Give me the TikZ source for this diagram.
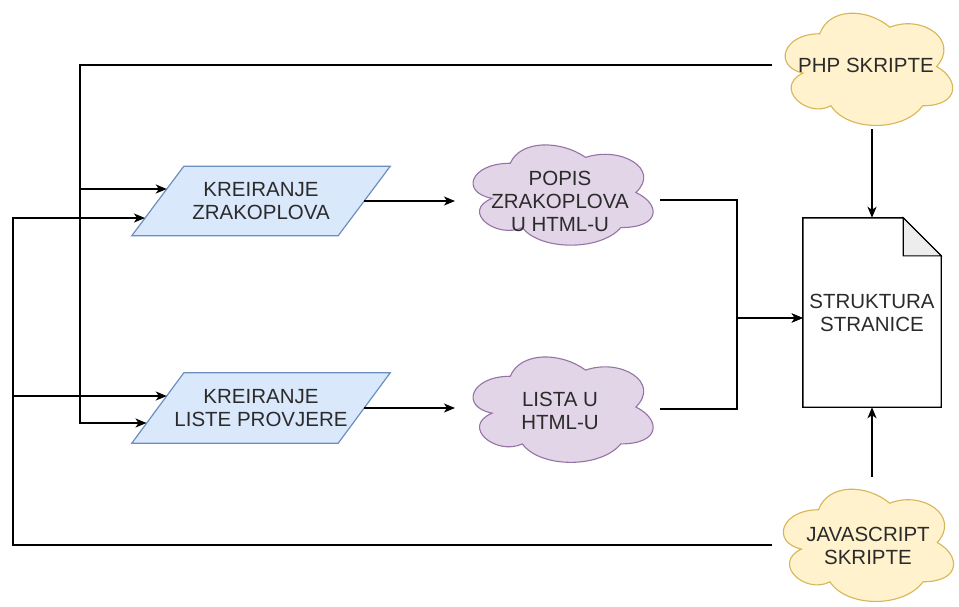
\documentclass[tikz,border=0pt]{standalone}
\usepackage{fontspec}
\setmainfont{Liberation Sans}
\usetikzlibrary{arrows.meta,backgrounds,calc}
\definecolor{pfill}{HTML}{DAE8FC}\definecolor{pline}{HTML}{6C8EBF}
\definecolor{cfill}{HTML}{E1D5E7}\definecolor{cline}{HTML}{9673A6}
\definecolor{yfill}{HTML}{FFF2CC}\definecolor{yline}{HTML}{D6B656}
\definecolor{txt}{HTML}{2B2B2B}
% draw.io style cloud inside the box (x0,y0) of size w x h (y grows downwards)
\newcommand{\dcloud}[5]{%
  \begin{scope}[shift={(#2,#3)},xscale=#4,yscale=#5]
  \path[#1] (0.25,0.25) .. controls (0.05,0.25) and (0,0.5) .. (0.16,0.55)
    .. controls (0,0.66) and (0.18,0.9) .. (0.31,0.8)
    .. controls (0.4,1) and (0.7,1) .. (0.8,0.8)
    .. controls (1,0.8) and (1,0.6) .. (0.875,0.5)
    .. controls (1,0.3) and (0.8,0.1) .. (0.625,0.2)
    .. controls (0.5,0.05) and (0.3,0.05) .. (0.25,0.25) -- cycle;
  \end{scope}}
\begin{document}
\begin{tikzpicture}[x=1pt,y=-1pt,
  lbl/.style={font=\fontsize{20.5}{23}\selectfont, text=txt, align=center, inner sep=0pt},
  para/.style={lbl, rectangle, minimum width=206pt, minimum height=69pt},
  paraedge/.style={fill=pfill, draw=pline, line width=1.2pt},
  purplecloud/.style={draw=cline, fill=cfill, line width=1.1pt},
  yellowcloud/.style={draw=yline, fill=yfill, line width=1.1pt},
  docbox/.style={lbl, rectangle, minimum width=138pt, minimum height=189pt},
  docedge/.style={draw=black, fill=white, line width=1.4pt},
  arr/.style={-{Stealth[length=11pt,width=9pt,inset=3pt]}, line width=1.5pt},
]
\useasboundingbox (0,0) rectangle (959,606);

% cloud outlines
\dcloud{yellowcloud}{773}{1}{187}{131}
\dcloud{yellowcloud}{771}{477}{190}{131}
\dcloud{purplecloud}{460}{134}{201}{117}
\dcloud{purplecloud}{460}{345.5}{201}{123}

% nodes
\node[lbl] (php) at (866,65) {PHP SKRIPTE};
\node[lbl] (js) at (868,546) {JAVASCRIPT\\SKRIPTE};
\node[para] (p1) at (261,201) {KREIRANJE\\ZRAKOPLOVA};
\node[para, minimum height=70pt] (p2) at (261,408) {KREIRANJE\\LISTE PROVJERE};
\node[lbl] (c1) at (560,201) {POPIS\\ZRAKOPLOVA\\U HTML-U};
\node[lbl] (c2) at (560,411) {LISTA U\\HTML-U};
\node[docbox] (doc) at (872,312.5) {STRUKTURA\\STRANICE};

\begin{pgfonlayer}{background}
  \draw[paraedge] ([xshift=26pt]p1.north west) -- ([xshift=26pt]p1.north east)
     -- ([xshift=-26pt]p1.south east) -- ([xshift=-26pt]p1.south west) -- cycle;
  \draw[paraedge] ([xshift=26pt]p2.north west) -- ([xshift=26pt]p2.north east)
     -- ([xshift=-26pt]p2.south east) -- ([xshift=-26pt]p2.south west) -- cycle;
  \draw[docedge] (doc.north west) -- ([xshift=-38pt]doc.north east)
     -- ([yshift=-38pt]doc.north east) -- (doc.south east) -- (doc.south west) -- cycle;
  \draw[docedge, fill=black!7, line width=1.1pt] ([xshift=-38pt]doc.north east)
     -- ([xshift=-38pt,yshift=-38pt]doc.north east) -- ([yshift=-38pt]doc.north east) -- cycle;
\end{pgfonlayer}

% connector points
\coordinate (phpL) at (772,65);
\coordinate (jsL) at (772,545);
\coordinate (busA) at (80,65);
\coordinate (busB) at (13,545);
\coordinate (p1a) at ($(p1.west)+(9,-12)$);
\coordinate (p1b) at ($(p1.west)+(-12.8,17)$);
\coordinate (p2a) at ($(p2.west)+(9,-12)$);
\coordinate (p2b) at ($(p2.west)+(-11.3,15)$);
\coordinate (c1in) at (455,201);
\coordinate (c2in) at (455,408);
\coordinate (c1out) at (660,200);
\coordinate (c2out) at (660,409);
\coordinate (join) at (737,318);
\coordinate (phpB) at (872,129);
\coordinate (jsT) at (872,477);

% connectors
\draw[arr] (phpL) -| (p2b -| busA) -- (p2b);
\draw[arr] (p1a -| busA) -- (p1a);
\draw[arr] (jsL) -| (p1b -| busB) -- (p1b);
\draw[arr] (p2a -| busB) -- (p2a);
\draw[arr] (p1.east) -- (c1in);
\draw[arr] (p2.east) -- (c2in);
\draw[arr] (c1out) -| (join) -- (join -| doc.west);
\draw[arr] (c2out) -| (join) -- (join -| doc.west);
\draw[arr] (phpB) -- (doc.north);
\draw[arr] (jsT) -- (doc.south);
\end{tikzpicture}
\end{document}
